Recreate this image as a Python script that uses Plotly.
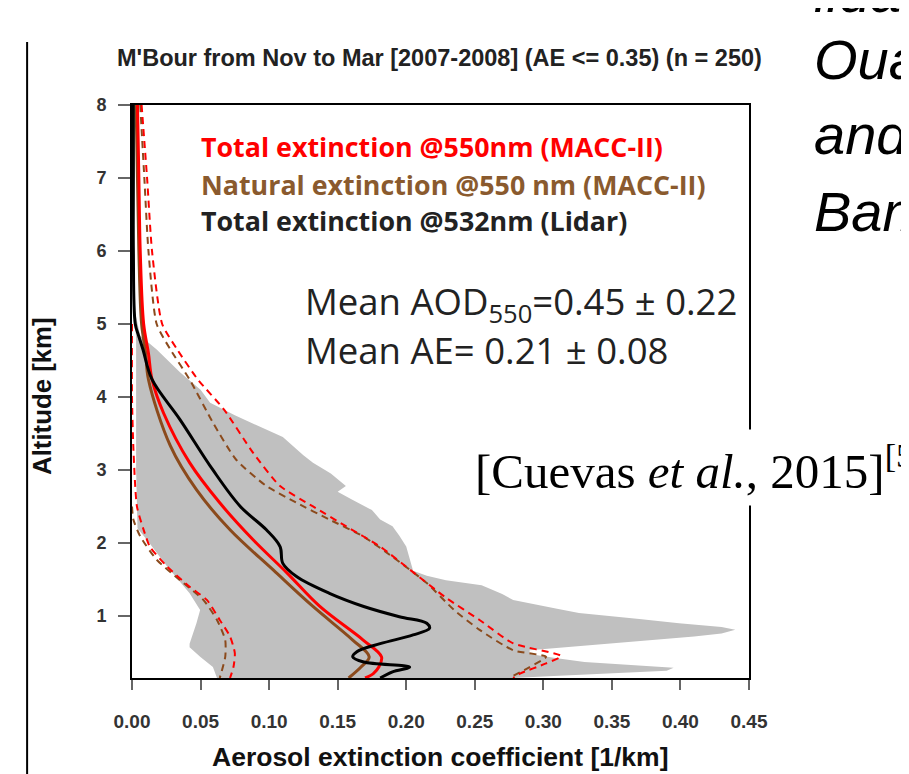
import plotly.graph_objects as go

# ---------------- data ----------------
# MACC-II total extinction @550nm (mean)
red_h = [8.0, 7.0, 6.0, 5.0, 4.6, 4.24, 3.78, 3.10, 2.55, 2.04, 1.59, 1.13, 0.67, 0.44, 0.30, 0.21, 0.15]
red_x = [0.004, 0.005, 0.006, 0.0085, 0.012, 0.0146, 0.023, 0.042, 0.064, 0.0885, 0.113, 0.137, 0.1686, 0.182, 0.180, 0.176, 0.170]

# MACC-II natural extinction @550nm (mean)
brown_h = [8.0, 7.0, 6.0, 5.0, 4.6, 4.24, 3.33, 2.73, 2.18, 1.63, 1.13, 0.67, 0.44, 0.30, 0.15]
brown_x = [0.003, 0.004, 0.005, 0.007, 0.010, 0.012, 0.028, 0.047, 0.0715, 0.103, 0.132, 0.161, 0.173, 0.167, 0.158]

# Lidar total extinction @532nm (mean)
lidar_h = [8.0, 7.0, 6.0, 5.0, 4.84, 4.65, 4.24, 3.69, 3.0, 2.5, 2.18, 1.95, 1.72, 1.54, 1.31, 1.13, 0.99,
           0.90, 0.83, 0.74, 0.62, 0.51, 0.44, 0.37, 0.30, 0.235, 0.15]
lidar_x = [0.001, 0.001, 0.001, 0.0024, 0.0048, 0.008, 0.0146, 0.035, 0.059, 0.079, 0.098, 0.108, 0.110, 0.120,
           0.144, 0.169, 0.195, 0.215, 0.217, 0.205, 0.181, 0.164, 0.161, 0.169, 0.2025, 0.190, 0.181]

# MACC-II total +/- std (dashed red)
red_hi_h = [8.0, 7.0, 6.0, 5.0, 4.65, 4.24, 3.83, 3.23, 2.78, 2.50, 2.23, 1.95, 1.60, 1.25, 0.945, 0.625, 0.45, 0.35, 0.21, 0.15]
red_hi_x = [0.007, 0.011, 0.0146, 0.022, 0.033, 0.048, 0.067, 0.0885, 0.108, 0.132, 0.156, 0.181, 0.205, 0.229, 0.2535, 0.278, 0.313, 0.302, 0.283, 0.278]
red_lo_h = [5.0, 4.0, 3.3, 2.5, 2.18, 1.95, 1.68, 1.40, 1.22, 0.945, 0.72, 0.49, 0.30, 0.15]
red_lo_x = [0.0, 0.0, 0.001, 0.0036, 0.0085, 0.013, 0.0255, 0.042, 0.0546, 0.064, 0.0715, 0.075, 0.074, 0.0715]

# MACC-II natural +/- std (dashed brown)
brown_hi_h = [8.0, 7.0, 6.0, 5.0, 4.65, 4.24, 3.65, 3.14, 2.78, 2.55, 2.32, 2.09, 1.81, 1.45, 1.08, 0.81, 0.53, 0.44, 0.30, 0.15]
brown_hi_x = [0.006, 0.009, 0.012, 0.018, 0.028, 0.042, 0.059, 0.076, 0.098, 0.120, 0.144, 0.1686, 0.19, 0.215, 0.235, 0.2535, 0.278, 0.302, 0.29, 0.275]
brown_lo_h = [2.5, 2.32, 2.09, 1.77, 1.49, 1.22, 0.945, 0.67, 0.44, 0.15]
brown_lo_x = [0.0, 0.001, 0.006, 0.018, 0.035, 0.052, 0.062, 0.068, 0.068, 0.064]

# Lidar range (grey envelope): left and right edges
grey_lo_h = [5.1, 4.8, 4.0, 3.0, 2.2, 2.04, 1.68, 1.31, 1.08, 0.90, 0.62, 0.57, 0.44, 0.30, 0.15]
grey_lo_x = [0.002, 0.003, 0.003, 0.003, 0.004, 0.011, 0.0255, 0.042, 0.0497, 0.047, 0.042, 0.042, 0.0497, 0.059, 0.062]
grey_hi_h = [5.1, 4.84, 4.65, 4.34, 4.1, 3.92, 3.75, 3.55, 3.45, 3.2, 3.10, 2.95, 2.78, 2.70, 2.60, 2.45, 2.32,
             2.23, 2.10, 1.95, 1.80, 1.62, 1.55, 1.49, 1.42, 1.30, 1.22, 1.10, 1.04, 0.96, 0.90, 0.85, 0.81,
             0.76, 0.72, 0.67, 0.60, 0.53, 0.48, 0.42, 0.37, 0.32, 0.29, 0.25, 0.21, 0.17, 0.15]
grey_hi_x = [0.003, 0.006, 0.018, 0.035, 0.05, 0.057, 0.075, 0.098, 0.11, 0.125, 0.132, 0.145, 0.156, 0.150,
             0.160, 0.175, 0.181, 0.19, 0.195, 0.20, 0.202, 0.205, 0.215, 0.229, 0.255, 0.27, 0.278, 0.31,
             0.326, 0.37, 0.399, 0.43, 0.44, 0.43, 0.41, 0.375, 0.335, 0.29, 0.29, 0.31, 0.33, 0.37, 0.395,
             0.39, 0.35, 0.30, 0.278]

x_ticks = [0.00, 0.05, 0.10, 0.15, 0.20, 0.25, 0.30, 0.35, 0.40, 0.45]
x_tick_labels = ["0.00", "0.05", "0.10", "0.15", "0.20", "0.25", "0.30", "0.35", "0.40", "0.45"]
y_ticks = [1, 2, 3, 4, 5, 6, 7, 8]

title_text = "M'Bour from Nov to Mar [2007-2008] (AE <= 0.35) (n = 250)"
legend_texts = ["Total extinction @550nm (MACC-II)",
                "Natural extinction @550 nm (MACC-II)",
                "Total extinction @532nm (Lidar)"]

# ---------------- figure ----------------
RED = "#ff0000"
BROWN = "#8b4a1c"
BROWN_TXT = "#8a5a2e"
GREY = "#c0c0c0"

fig = go.Figure()

fig.add_trace(go.Scatter(
    x=grey_lo_x + grey_hi_x[::-1], y=grey_lo_h + grey_hi_h[::-1],
    fill="toself", fillcolor=GREY, line=dict(width=0, color=GREY),
    mode="lines", hoverinfo="skip"))

dash = "7px,5px"
fig.add_trace(go.Scatter(x=brown_hi_x, y=brown_hi_h, mode="lines", line=dict(color=BROWN, width=2, dash=dash, shape="spline", smoothing=0.6)))
fig.add_trace(go.Scatter(x=brown_lo_x, y=brown_lo_h, mode="lines", line=dict(color=BROWN, width=2, dash=dash, shape="spline", smoothing=0.6)))
fig.add_trace(go.Scatter(x=red_hi_x, y=red_hi_h, mode="lines", line=dict(color=RED, width=2, dash=dash, shape="spline", smoothing=0.6)))
fig.add_trace(go.Scatter(x=red_lo_x, y=red_lo_h, mode="lines", line=dict(color=RED, width=2, dash=dash, shape="spline", smoothing=0.6)))
fig.add_trace(go.Scatter(x=brown_x, y=brown_h, mode="lines", line=dict(color=BROWN, width=3, shape="spline")))
fig.add_trace(go.Scatter(x=red_x, y=red_h, mode="lines", line=dict(color=RED, width=3, shape="spline")))
fig.add_trace(go.Scatter(x=lidar_x, y=lidar_h, mode="lines", line=dict(color="black", width=3, shape="spline")))

axis_common = dict(showline=True, linecolor="black", linewidth=2, mirror=True,
                   ticks="outside", tickcolor="#666666", tickwidth=1.5, showgrid=False, zeroline=False)

fig.update_xaxes(range=[0, 0.45], tickvals=x_ticks, ticktext=x_tick_labels, ticklen=10,
                 ticklabelstandoff=15,
                 tickfont=dict(family="Liberation Sans, Arial", size=19, color="#333333", weight="bold"),
                 **axis_common)
fig.update_yaxes(range=[0.15, 8], tickvals=y_ticks, ticklen=12, ticklabelstandoff=8,
                 tickfont=dict(family="Liberation Sans, Arial", size=18, color="#333333", weight="bold"),
                 **axis_common)

ann = []
ann.append(dict(text=title_text, xref="paper", yref="paper", x=0.499, y=1.082, xanchor="center", yanchor="middle",
                showarrow=False, font=dict(family="Liberation Sans, Arial", size=23.5, color="#222222", weight="bold")))
ann.append(dict(text="Aerosol extinction coefficient [1/km]", xref="paper", yref="paper", x=0.499, y=-0.138,
                xanchor="center", yanchor="middle", showarrow=False,
                font=dict(family="Liberation Sans, Arial", size=26.5, color="#111111", weight="bold")))
ann.append(dict(text="Altitude [km]", xref="paper", yref="paper", x=-0.146, y=0.492, textangle=-90,
                xanchor="center", yanchor="middle", showarrow=False,
                font=dict(family="Liberation Sans, Arial", size=25.8, color="#111111", weight="bold")))

leg_cols = [RED, BROWN_TXT, "#222222"]
leg_y = [0.927, 0.862, 0.799]
for t, c, yy in zip(legend_texts, leg_cols, leg_y):
    ann.append(dict(text=t, xref="paper", yref="paper", x=0.109, y=yy, xanchor="left", yanchor="middle",
                    showarrow=False, font=dict(family="Open Sans", size=26.8, color=c, weight="bold")))

ann.append(dict(text="Mean AOD<sub>550</sub>=0.45 ± 0.22", xref="paper", yref="paper", x=0.277, y=0.655,
                xanchor="left", yanchor="middle", showarrow=False,
                font=dict(family="Open Sans", size=36.5, color="#222222")))
ann.append(dict(text="Mean AE= 0.21 ± 0.08", xref="paper", yref="paper", x=0.277, y=0.572,
                xanchor="left", yanchor="middle", showarrow=False,
                font=dict(family="Open Sans", size=36.5, color="#222222")))

ann.append(dict(text="[Cuevas <i>et al.</i>, 2015]<sup>[5]</sup>", xref="paper", yref="paper", x=0.544, y=0.368,
                xanchor="left", yanchor="middle", showarrow=False, bgcolor="white", borderpad=6,
                font=dict(family="Liberation Serif, Times New Roman", size=49, color="black")))

side = [("lidar", 1.196), ("Ouagadougou", 1.080), ("and", 0.949), ("Bamako", 0.815)]
for t, yy in side:
    ann.append(dict(text="<i>" + t + "</i>", xref="paper", yref="paper", x=1.102, y=yy, xanchor="left",
                    yanchor="middle", showarrow=False,
                    font=dict(family="Liberation Sans, Arial", size=56, color="black")))

fig.update_layout(
    width=909, height=774, showlegend=False,
    margin=dict(l=124, r=168, t=97, b=104),
    paper_bgcolor="white", plot_bgcolor="white",
    annotations=ann,
    shapes=[dict(type="line", xref="paper", yref="paper", x0=-0.170, x1=-0.170, y0=-0.2, y1=1.110,
                 line=dict(color="black", width=2))])

fig.write_html("out.html")
